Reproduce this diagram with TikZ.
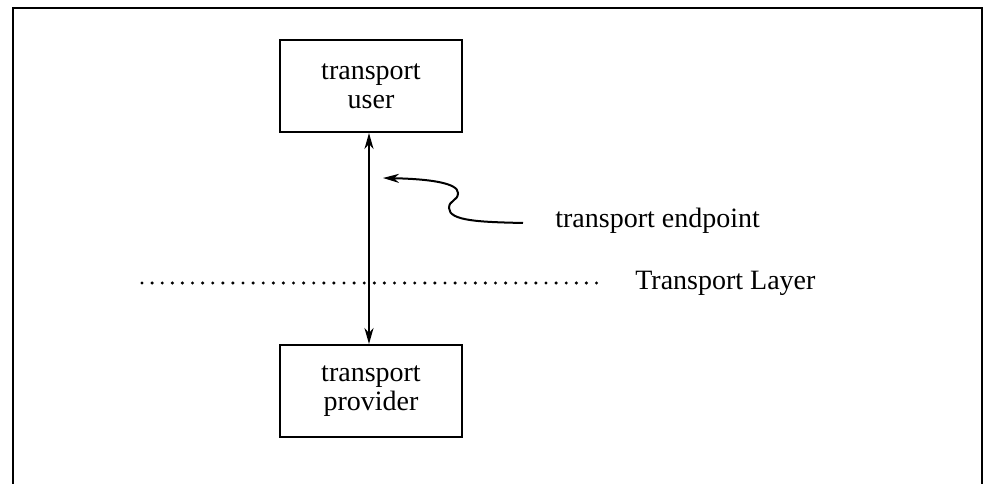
\documentclass[tikz,border=0pt]{standalone}
\usepackage{fontspec}
\setmainfont{Liberation Serif}
\usetikzlibrary{positioning}
\usetikzlibrary{arrows.meta}

\begin{document}
\begin{tikzpicture}
        [x=1pt,y=-1pt,line width=2pt,
         >={Stealth[length=16pt,width=9pt,inset=5pt]},
         every node/.style={font=\fontsize{28}{29}\selectfont},
         layerbox/.style={draw,minimum width=182pt,minimum height=92pt,align=center,inner sep=0pt}]
      \useasboundingbox (0,0) rectangle (986,484);
      \draw (13,484) -- (13,8) -- (982,8) -- (982,484);
      \node[layerbox]  (user)      at (371,86)  {transport\\user};
      \node[layerbox]  (provider)  at (371,391) {transport\\provider};
      \node[anchor=west] (layer)   at (631,283) {Transport Layer};
      \node[anchor=west] (endpt)   at (551,221) {transport endpoint};
      \coordinate (tail) at (523,223);
      \coordinate (head) at (383,178);
      \coordinate (dotstart) at (142,283);
      \path [<->] ([xshift=-2pt]user.south) edge ([xshift=-2pt]provider.north);
      \draw [line width=3.4pt,line cap=round,dash pattern=on 0pt off 10.1pt]
            (dotstart) -- ([xshift=-31pt]layer.west);
      \draw [->] (tail) .. controls (480,222) and (449,221) .. (449,208)
            .. controls (449,200) and (458,201) .. (458,193)
            .. controls (458,183) and (430,179) .. (head);
      \end{tikzpicture}
\end{document}
